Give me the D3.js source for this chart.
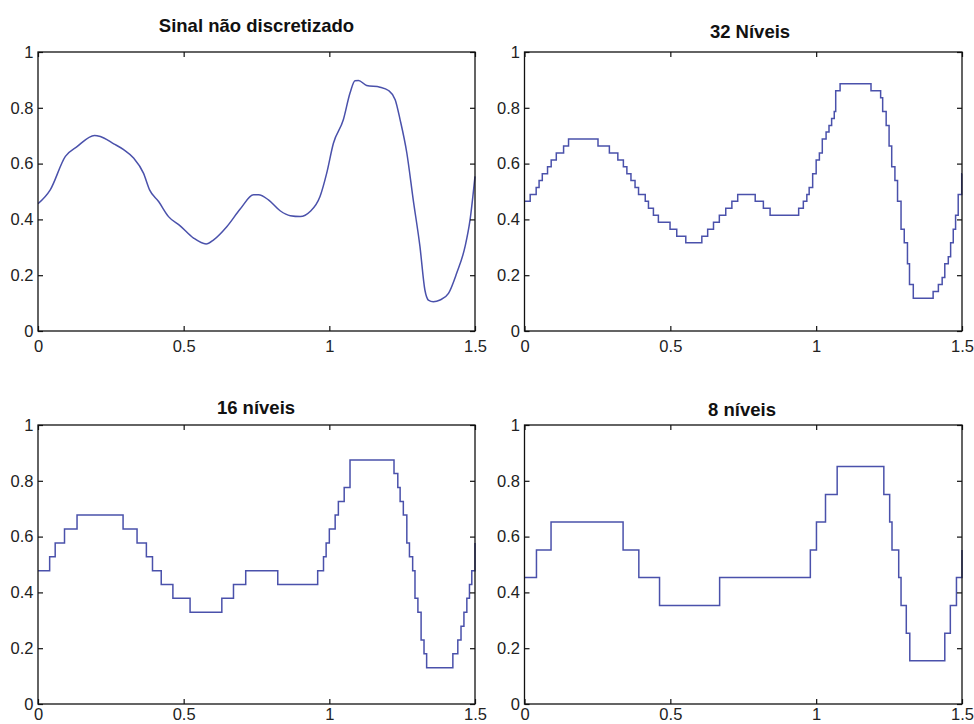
<!DOCTYPE html>
<html>
<head>
<meta charset="utf-8">
<script src="https://cdn.jsdelivr.net/npm/d3@7"></script>
<style>
  html, body { margin: 0; padding: 0; background: #fff; }
  svg { display: block; }
  text { font-family: "Liberation Sans", Arial, Helvetica, sans-serif; }
</style>
</head>
<body>
<svg id="chart" width="974" height="724"></svg>
<script>
// ---------- data ----------
const titles = ["Sinal não discretizado", "32 Níveis", "16 níveis", "8 níveis"];

const xTicks = [0, 0.5, 1, 1.5];
const xTickLabels = ["0", "0.5", "1", "1.5"];
const yTicks = [0, 0.2, 0.4, 0.6, 0.8, 1];
const yTickLabels = ["0", "0.2", "0.4", "0.6", "0.8", "1"];

// continuous (non-discretized) signal: t, value
const signalT = [0, 0.042, 0.094, 0.134, 0.194, 0.214, 0.26, 0.294, 0.328, 0.362, 0.383, 0.414, 0.448, 0.488,
  0.534, 0.577, 0.603, 0.648, 0.694, 0.740, 0.757, 0.791, 0.831, 0.866, 0.900, 0.934, 0.968, 0.991, 1.014,
  1.048, 1.071, 1.088, 1.10, 1.128, 1.174, 1.203, 1.226, 1.243, 1.266, 1.288, 1.311, 1.328, 1.340, 1.357,
  1.380, 1.409, 1.437, 1.466, 1.483, 1.5];
const signalV = [0.456, 0.506, 0.626, 0.661, 0.701, 0.697, 0.671, 0.650, 0.620, 0.566, 0.506, 0.464, 0.410, 0.377,
  0.333, 0.312, 0.327, 0.374, 0.437, 0.488, 0.488, 0.470, 0.431, 0.413, 0.410, 0.428, 0.482, 0.566, 0.673,
  0.757, 0.853, 0.897, 0.898, 0.880, 0.874, 0.862, 0.829, 0.757, 0.638, 0.470, 0.303, 0.147, 0.111, 0.105,
  0.111, 0.135, 0.207, 0.303, 0.398, 0.554];

// 32 levels: step start positions and levels
const q32T = [0, 0.0195, 0.040, 0.050, 0.061, 0.079, 0.0915, 0.109, 0.134, 0.151, 0.252, 0.291, 0.320, 0.339,
  0.351, 0.365, 0.379, 0.391, 0.414, 0.425, 0.442, 0.459, 0.499, 0.522, 0.553, 0.608, 0.628, 0.648, 0.668,
  0.690, 0.711, 0.731, 0.791, 0.819, 0.842, 0.940, 0.956, 0.968, 0.976, 0.988, 1.000, 1.011, 1.021, 1.034,
  1.044, 1.053, 1.062, 1.067, 1.082, 1.188, 1.221, 1.228, 1.240, 1.250, 1.259, 1.270, 1.279, 1.291, 1.302,
  1.313, 1.320, 1.333, 1.401, 1.419, 1.432, 1.441, 1.453, 1.461, 1.470, 1.478, 1.487, 1.499, 1.5];
const q32V = [0.465, 0.489, 0.514, 0.539, 0.564, 0.589, 0.613, 0.638, 0.663, 0.688, 0.663, 0.638, 0.613, 0.589,
  0.564, 0.539, 0.514, 0.489, 0.465, 0.440, 0.415, 0.390, 0.365, 0.340, 0.316, 0.340, 0.365, 0.390, 0.415,
  0.440, 0.465, 0.489, 0.465, 0.440, 0.415, 0.440, 0.465, 0.489, 0.514, 0.564, 0.613, 0.638, 0.688, 0.713,
  0.737, 0.762, 0.787, 0.861, 0.886, 0.861, 0.836, 0.787, 0.737, 0.663, 0.589, 0.539, 0.465, 0.365, 0.316,
  0.241, 0.167, 0.117, 0.142, 0.167, 0.192, 0.241, 0.266, 0.316, 0.365, 0.415, 0.489, 0.564, 0.564];

// 16 levels
const q16T = [0, 0.040, 0.059, 0.091, 0.134, 0.292, 0.340, 0.372, 0.393, 0.423, 0.463, 0.522, 0.631, 0.671,
  0.713, 0.823, 0.960, 0.980, 0.989, 1.000, 1.020, 1.031, 1.051, 1.071, 1.222, 1.235, 1.243, 1.254, 1.266,
  1.275, 1.286, 1.294, 1.304, 1.315, 1.325, 1.334, 1.424, 1.441, 1.452, 1.462, 1.472, 1.481, 1.489, 1.5];
const q16V = [0.478, 0.528, 0.577, 0.627, 0.677, 0.627, 0.577, 0.528, 0.478, 0.428, 0.379, 0.329, 0.379, 0.428,
  0.478, 0.428, 0.478, 0.528, 0.577, 0.627, 0.677, 0.726, 0.776, 0.875, 0.826, 0.776, 0.726, 0.677, 0.577,
  0.528, 0.478, 0.379, 0.329, 0.229, 0.180, 0.130, 0.180, 0.229, 0.279, 0.329, 0.379, 0.428, 0.478, 0.577];

// 8 levels
const q8T = [0, 0.041, 0.091, 0.338, 0.392, 0.463, 0.669, 0.980, 1.001, 1.032, 1.072, 1.232, 1.252, 1.260,
  1.283, 1.291, 1.309, 1.321, 1.441, 1.460, 1.481, 1.5];
const q8V = [0.453, 0.552, 0.652, 0.552, 0.453, 0.353, 0.453, 0.552, 0.652, 0.751, 0.851, 0.751, 0.652, 0.552,
  0.453, 0.353, 0.254, 0.155, 0.254, 0.353, 0.453, 0.552];

// ---------- layout ----------
const panels = [
  { title: titles[0], t: signalT, v: signalV, curve: d3.curveMonotoneX, x0: 38, x1: 475, y0: 52, y1: 331, tx: 256.5, ty: 31.5, xpad: 9 },
  { title: titles[1], t: q32T, v: q32V, curve: d3.curveStepAfter, x0: 524.5, x1: 962, y0: 52, y1: 331, tx: 750, ty: 37.5, xpad: 9 },
  { title: titles[2], t: q16T, v: q16V, curve: d3.curveStepAfter, x0: 38, x1: 475, y0: 425, y1: 704, tx: 256, ty: 413.5, xpad: 4 },
  { title: titles[3], t: q8T, v: q8V, curve: d3.curveStepAfter, x0: 524.5, x1: 962, y0: 425, y1: 704, tx: 742, ty: 416, xpad: 4 }
];

const svg = d3.select("#chart");
const lineColor = "#4a51ab";
const tickFont = 16.5;

panels.forEach(p => {
  const x = d3.scaleLinear().domain([0, 1.5]).range([p.x0, p.x1]);
  const y = d3.scaleLinear().domain([0, 1]).range([p.y1, p.y0]);
  const g = svg.append("g");

  // clip
  const cid = "clip" + Math.round(p.x0) + "_" + p.y0;
  g.append("clipPath").attr("id", cid).append("rect")
    .attr("x", p.x0).attr("y", p.y0 - 1).attr("width", p.x1 - p.x0 + 1).attr("height", p.y1 - p.y0 + 2);

  // data line
  const pts = p.t.map((t, i) => [t, p.v[i]]);
  g.append("path")
    .datum(pts)
    .attr("clip-path", `url(#${cid})`)
    .attr("fill", "none")
    .attr("stroke", lineColor)
    .attr("stroke-width", 1.5)
    .attr("d", d3.line().x(d => x(d[0])).y(d => y(d[1])).curve(p.curve));

  // axes with inward ticks (MATLAB style)
  const xFmt = (d, i) => xTickLabels[i];
  const yFmt = (d, i) => yTickLabels[i];

  const bottom = g.append("g").attr("transform", `translate(0,${p.y1})`)
    .call(d3.axisBottom(x).tickValues(xTicks).tickFormat(xFmt).tickSizeInner(-5).tickSizeOuter(0).tickPadding(p.xpad));
  const top = g.append("g").attr("transform", `translate(0,${p.y0})`)
    .call(d3.axisTop(x).tickValues(xTicks).tickFormat("").tickSizeInner(-5).tickSizeOuter(0));
  const left = g.append("g").attr("transform", `translate(${p.x0},0)`)
    .call(d3.axisLeft(y).tickValues(yTicks).tickFormat(yFmt).tickSizeInner(-5).tickSizeOuter(0).tickPadding(4.5));
  const right = g.append("g").attr("transform", `translate(${p.x1},0)`)
    .call(d3.axisRight(y).tickValues(yTicks).tickFormat("").tickSizeInner(-5).tickSizeOuter(0));

  [bottom, top, left, right].forEach(a => {
    a.select(".domain").remove();
    a.selectAll(".tick line").attr("stroke", "#111").attr("stroke-width", 1.2);
    a.selectAll(".tick text")
      .attr("fill", "#222")
      .style("font-size", tickFont + "px")
      .style("font-family", '"Liberation Sans", Arial, Helvetica, sans-serif');
  });

  // box
  g.append("rect")
    .attr("x", p.x0).attr("y", p.y0)
    .attr("width", p.x1 - p.x0).attr("height", p.y1 - p.y0)
    .attr("fill", "none").attr("stroke", "#111").attr("stroke-width", 1.3);

  // title
  g.append("text")
    .attr("x", p.tx).attr("y", p.ty)
    .attr("text-anchor", "middle")
    .attr("fill", "#111")
    .style("font-size", "18.5px")
    .style("font-weight", "bold")
    .text(p.title);
});
</script>
</body>
</html>
